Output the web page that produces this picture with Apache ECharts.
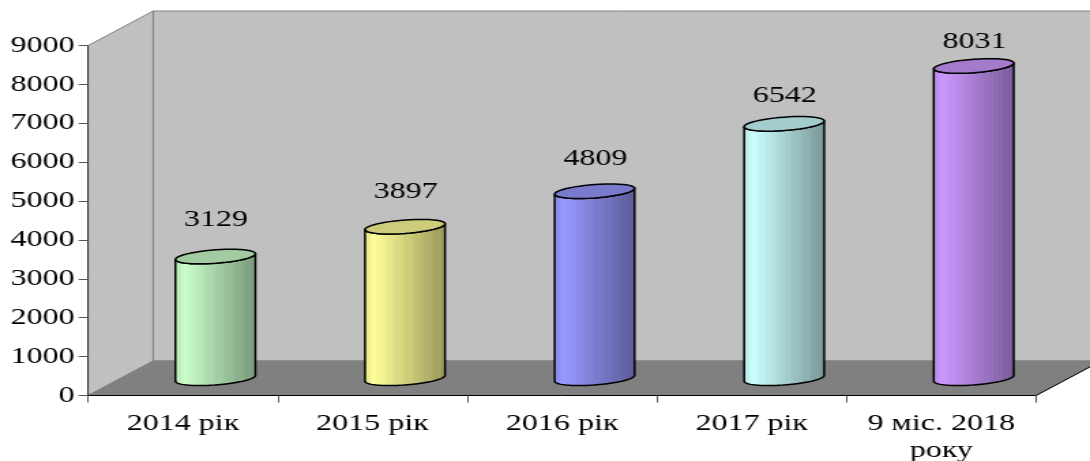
<!DOCTYPE html>
<html><head><meta charset="utf-8">
<style>
html,body{margin:0;padding:0;background:#fff;overflow:hidden;width:1090px;height:461px}
#c{width:800px;height:461px;transform-origin:0 0;transform:scaleX(1.3625)}
</style>
<script src="https://cdn.jsdelivr.net/npm/echarts@6/dist/echarts.min.js"></script>
</head><body><div id="c"></div>
<script>
const categories = ['2014 рік', '2015 рік', '2016 рік', '2017 рік', '9 міс. 2018\nроку'];
const values = [3129, 3897, 4809, 6542, 8031];
const barColors = [[204,255,204],[255,255,153],[153,153,255],[204,255,255],[204,153,255]];

const depthX = 47.7, depthY = 34.5;
const FONT = '"Liberation Serif"';
const FONT_SIZE = 23.5;
const chart = echarts.init(document.getElementById('c'));

function shade(c, f){ return 'rgb(' + c.map(v => Math.round(v * f)).join(',') + ')'; }

function bandStops(c){
  const stops = [], n = 26;
  for (let i = 0; i < n; i++) {
    const a = i / n, b = (i + 1) / n, m = (a + b) / 2;
    const f = m < 0.12 ? 0.9 + m * 0.83 : 1 - (m - 0.12) * 0.46;
    const col = shade(c, f - (i % 3 === 1 ? 0.01 : 0));
    stops.push({offset: a, color: col}, {offset: b, color: col});
  }
  return stops;
}

function ellipsePts(cx, cy, a, b, tilt, from, to){
  const pts = [], n = 48;
  for (let i = 0; i <= n; i++) {
    const t = from + (to - from) * i / n;
    pts.push([cx + a * Math.cos(t), cy + b * Math.sin(t) - tilt * Math.cos(t)]);
  }
  return pts;
}

function renderWalls(params){
  const g = params.coordSys, x0 = g.x, x1 = g.x + g.width, yT = g.y, yB = g.y + g.height;
  const wall = {fill: '#c0c0c0', stroke: '#808080', lineWidth: 1};
  return {type: 'group', silent: true, children: [
    {type: 'polygon', shape: {points: [[x0+depthX,yT-depthY],[x1+depthX,yT-depthY],[x1+depthX,yB-depthY],[x0+depthX,yB-depthY]]}, style: wall},
    {type: 'polygon', shape: {points: [[x0,yT],[x0+depthX,yT-depthY],[x0+depthX,yB-depthY],[x0,yB]]}, style: wall},
    {type: 'polygon', shape: {points: [[x0,yB],[x1,yB],[x1+depthX,yB-depthY],[x0+depthX,yB-depthY]]}, style: {fill: '#808080', stroke: '#808080', lineWidth: 1}},
    {type: 'line', shape: {x1: x1, y1: yB, x2: x1 + depthX, y2: yB - depthY}, style: {stroke: '#000', lineWidth: 1}}
  ]};
}

function renderBar(params, api){
  const idx = api.value(0), v = api.value(1);
  const top = api.coord([idx, v]), base = api.coord([idx, 0]);
  const a = api.size([1, 0])[0] * 0.211, b = 6.7, tilt = 2.9;
  const cx = top[0] + depthX / 2, topY = top[1] - depthY / 2, baseY = base[1] - depthY / 2;
  const c = barColors[idx];
  const bodyPts = ellipsePts(cx, topY, a, b, tilt, Math.PI, 0).concat(ellipsePts(cx, baseY, a, b, tilt, 0, Math.PI));
  return {type: 'group', children: [
    {type: 'polygon', shape: {points: bodyPts}, style: {
      fill: new echarts.graphic.LinearGradient(0, 0, 1, 0, bandStops(c)), stroke: '#000', lineWidth: 1.5, lineJoin: 'round'}},
    {type: 'polygon', shape: {points: ellipsePts(cx, topY, a, b, tilt, 0, Math.PI * 2)}, style: {
      fill: shade(c, 0.8), stroke: '#000', lineWidth: 1.5}},
    {type: 'text', x: cx + 0.5, y: topY - (45.5 - 0.00265 * v), style: {
      text: String(v), font: FONT_SIZE + 'px ' + FONT, fill: '#000', align: 'center', verticalAlign: 'middle'}}
  ]};
}

chart.setOption({
  animation: false,
  backgroundColor: '#fff',
  grid: {left: 64.7, right: 39.6, top: 45.5, bottom: 65.5, outerBoundsMode: 'none', containLabel: false},
  xAxis: {
    type: 'category', data: categories, z: 5,
    axisLine: {lineStyle: {color: '#000', width: 1}},
    axisTick: {show: true, length: 7, lineStyle: {color: '#555'}},
    axisLabel: {color: '#000', fontFamily: FONT, fontSize: FONT_SIZE, lineHeight: 27, margin: 15, interval: 0, hideOverlap: false}
  },
  yAxis: {
    type: 'value', min: 0, max: 9000, interval: 1000, z: 5,
    axisLine: {show: true, lineStyle: {color: '#333', width: 1}},
    axisTick: {show: true, length: 7, lineStyle: {color: '#555'}},
    axisLabel: {color: '#000', fontFamily: FONT, fontSize: FONT_SIZE, margin: 10, padding: [2, 0, 0, 0], formatter: v => String(v)},
    splitLine: {show: false}
  },
  series: [
    {type: 'custom', z: 1, silent: true, clip: false, renderItem: renderWalls, data: [[0, 0]]},
    {type: 'custom', z: 10, clip: false, renderItem: renderBar, encode: {x: 0, y: 1},
     data: values.map((v, i) => [i, v])}
  ]
});
</script></body></html>
